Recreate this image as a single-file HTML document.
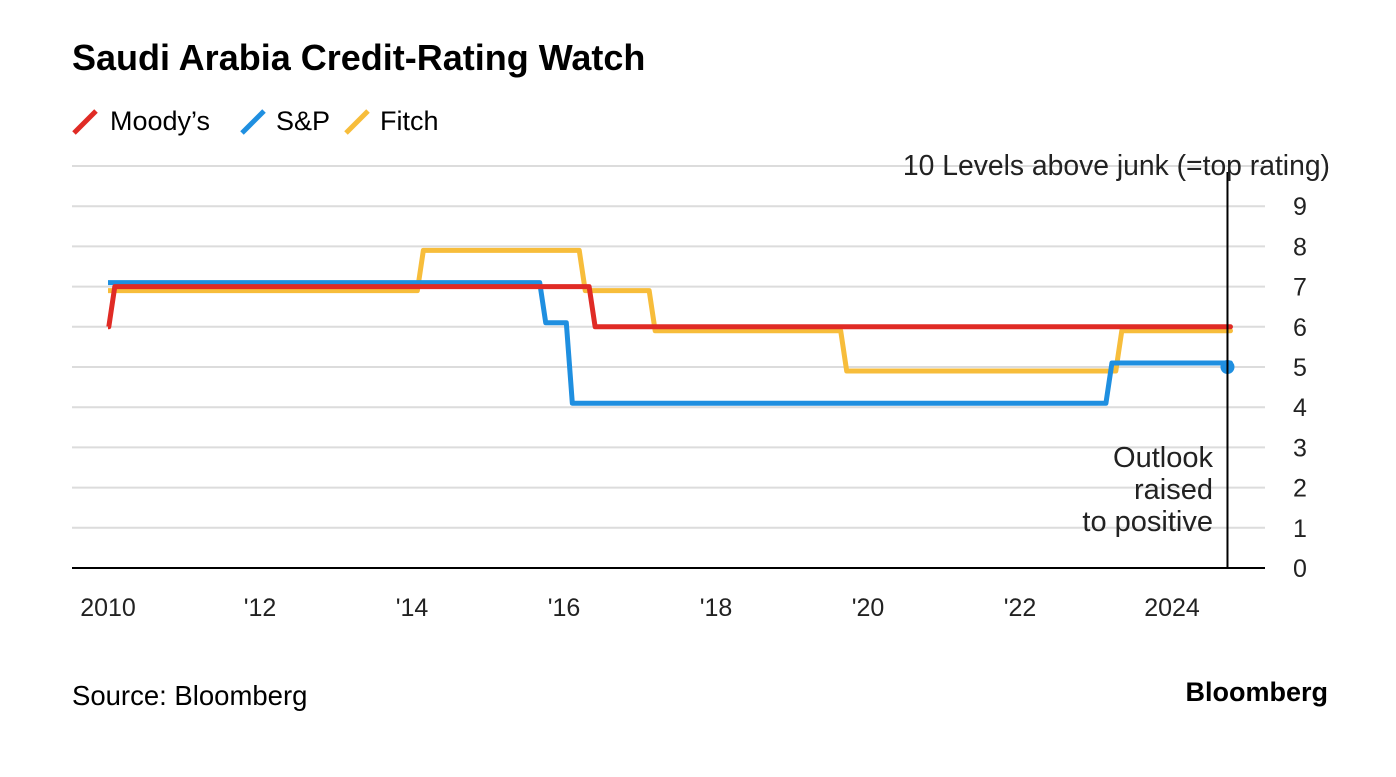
<!DOCTYPE html>
<html><head><meta charset="utf-8"><style>
body{margin:0;background:#fff;width:1396px;height:772px;overflow:hidden;font-family:"Liberation Sans",sans-serif;}
svg text{font-family:"Liberation Sans",sans-serif;}
</style></head><body>
<svg id="chart" width="1396" height="772">
<text x="72" y="70" font-size="36" font-weight="bold" fill="#000">Saudi Arabia Credit-Rating Watch</text>
<g>
<line x1="74" y1="133" x2="96" y2="111" stroke="#e02b25" stroke-width="5"/>
<text x="110" y="130" font-size="27">Moody’s</text>
<line x1="242" y1="133" x2="264" y2="111" stroke="#1f8fe0" stroke-width="5"/>
<text x="276" y="130" font-size="27">S&amp;P</text>
<line x1="346" y1="133" x2="368" y2="111" stroke="#f7bd3b" stroke-width="5"/>
<text x="380" y="130" font-size="27">Fitch</text>
</g>
<g id="grid"></g><g id="series"></g><g id="axes"></g>
<text x="72" y="705" font-size="27.5">Source: Bloomberg</text>
<text x="1328" y="701" font-size="27" font-weight="bold" text-anchor="end">Bloomberg</text>
</svg>
<script>
const yTicks=[0,1,2,3,4,5,6,7,8,9];
const xTickYears=[2010,2012,2014,2016,2018,2020,2022,2024];
const xTickLabels=["2010","'12","'14","'16","'18","'20","'22","2024"];
const moodysDates=[2010.0,2010.05,2016.37,2024.73];
const moodysVals=[6,7,6,6];
const spDates=[2010.0,2015.72,2016.07,2023.17,2024.73];
const spVals=[7,6,4,5,5];
const fitchDates=[2010.0,2014.11,2016.24,2017.16,2019.68,2023.3,2024.73];
const fitchVals=[7,8,7,6,5,6,6];
const endDate=2024.73;
const NS="http://www.w3.org/2000/svg";
const X=d=>108+(d-2010)*76.0;
const Y=v=>568-v*40.2;
const grid=document.getElementById('grid'),series=document.getElementById('series'),axes=document.getElementById('axes');
function mk(tag,attrs,parent){const e=document.createElementNS(NS,tag);for(const k in attrs)e.setAttribute(k,attrs[k]);parent.appendChild(e);return e;}
yTicks.forEach(v=>{
  if(v>0){const l=mk('line',{x1:72,x2:1265,y1:Y(v),y2:Y(v),stroke:'#dcdcdc','stroke-width':2},grid);
  
  }
  const t=mk('text',{x:1300,y:Y(v)+9,'font-size':25,'text-anchor':'middle',fill:'#222'},axes);t.textContent=v;
  
  
});
const g10=mk('line',{x1:72,x2:1265,y1:Y(10),y2:Y(10),stroke:'#dcdcdc','stroke-width':2},grid);


const t10=mk('text',{x:1330,y:Y(10)+9,'font-size':28.3,'text-anchor':'end',fill:'#222'},axes);t10.textContent='10 Levels above junk (=top rating)';


xTickYears.forEach((yr,i)=>{
  const t=mk('text',{x:X(yr),y:616,'font-size':25,'text-anchor':'middle',fill:'#222'},axes);t.textContent=xTickLabels[i];
  
  
});
const ax=mk('line',{x1:72,x2:1265,y1:568,y2:568,stroke:'#000','stroke-width':2},axes);


function step(dates,vals,color,off,name){
  let pts=[];
  for(let i=0;i<dates.length;i++){
    const x=X(dates[i]),y=Y(vals[i])+off;
    if(i>0){pts.push([x-3,Y(vals[i-1])+off]);pts.push([x+3,y]);}else pts.push([x,y]);
  }
  pts.push([X(endDate),Y(vals[vals.length-1])+off]);
  const p=mk('polyline',{points:pts.map(p=>p.join(',')).join(' '),fill:'none',stroke:color,'stroke-width':5,'stroke-linejoin':'round'},series);
  
  
}
step(fitchDates,fitchVals,'#f7bd3b',4,'fitch-line');
step(spDates,spVals,'#1f8fe0',-4,'sp-line');
step(moodysDates,moodysVals,'#e02b25',0,'moodys-line');
const dot=mk('circle',{cx:X(endDate),cy:Y(spVals[spVals.length-1]),r:7,fill:'#1f8fe0'},series);


const vl=mk('line',{x1:X(endDate),x2:X(endDate),y1:172,y2:568,stroke:'#000','stroke-width':2},series);


['Outlook','raised','to positive'].forEach((s,i)=>{
  const t=mk('text',{x:1213,y:467+i*32,'font-size':29,'text-anchor':'end',fill:'#222'},series);t.textContent=s;
  
  
});
</script>
</body></html>
